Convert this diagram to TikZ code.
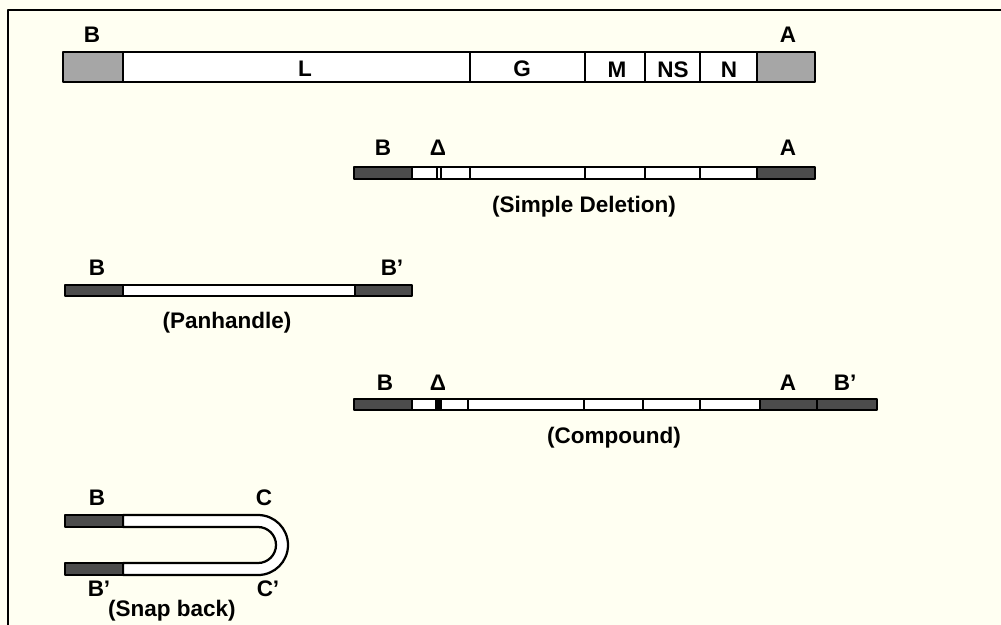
\documentclass[tikz,border=0pt]{standalone}
\usepackage{fontspec}
\setmainfont{Liberation Sans}
\definecolor{paper}{HTML}{FFFFF2}

\begin{document}
\begin{tikzpicture}[x=0.025cm, y=-0.025cm, line join=round]
    \tikzstyle{label_style} = [font=\fontsize{16}{18}\selectfont\bfseries, inner sep=0pt]
    \tikzstyle{bar_style} = [draw=black, line width=1.6pt, fill=white]
    \tikzstyle{end_style} = [draw=black, line width=1.6pt, fill=black!35]
    \tikzstyle{tip_style} = [draw=black, line width=1.4pt, fill=black!70]
    \tikzstyle{cut_style} = [draw=black, line width=1.3pt]

    \fill[paper] (0,0) rectangle (1001,625);
    \useasboundingbox (0,0) rectangle (1001,625);
    \draw[line width=1.8pt] (8,625) -- (8,10) -- (1001,10);

    % full genome
    \draw[bar_style] (123,52) rectangle (757,82);
    \draw[end_style] (63,52) rectangle (123,82);
    \draw[end_style] (757,52) rectangle (815,82);
    \foreach \x in {470,585,645,700}
        \draw[cut_style] (\x,52) -- (\x,82);
    \node[label_style] (b1) at (92,35) {B};
    \node[label_style] (a1) at (788,35) {A};
    \node[label_style] (l1) at (305,69) {L};
    \node[label_style] (g1) at (522,69) {G};
    \node[label_style] (m1) at (617,70) {M};
    \node[label_style] (ns1) at (673,70) {NS};
    \node[label_style] (n1) at (729,70) {N};

    % simple deletion
    \draw[bar_style] (412,167) rectangle (757,179);
    \draw[tip_style] (354,167) rectangle (412,179);
    \draw[tip_style] (757,167) rectangle (815,179);
    \foreach \x in {437,441,470,585,645,700}
        \draw[cut_style] (\x,167) -- (\x,179);
    \node[label_style] (b2) at (383,148) {B};
    \node[label_style] (d2) at (438,148) {Δ};
    \node[label_style] (a2) at (788,148) {A};
    \node[label_style] (cap2) at (584,207) {(Simple Deletion)};

    % panhandle
    \draw[bar_style] (123,285) rectangle (355,296);
    \draw[tip_style] (65,285) rectangle (123,296);
    \draw[tip_style] (355,285) rectangle (412,296);
    \node[label_style] (b3) at (97,268) {B};
    \node[label_style] (b3p) at (392,268) {B’};
    \node[label_style] (cap3) at (227,323) {(Panhandle)};

    % compound
    \draw[bar_style] (412,399) rectangle (760,410);
    \draw[tip_style] (354,399) rectangle (412,410);
    \draw[tip_style] (760,399) rectangle (817,410);
    \draw[tip_style] (817,399) rectangle (877,410);
    \fill (435,399) rectangle (442,410);
    \foreach \x in {468,584,643,700}
        \draw[cut_style] (\x,399) -- (\x,410);
    \node[label_style] (b4) at (385,383) {B};
    \node[label_style] (d4) at (438,383) {Δ};
    \node[label_style] (a4) at (788,383) {A};
    \node[label_style] (b4p) at (845,383) {B’};
    \node[label_style] (cap4) at (614,438) {(Compound)};

    % snap back
    \draw[bar_style] (123,515) -- (258,515) arc[start angle=90, end angle=-90, radius=0.75cm]
        -- (123,575) -- (123,563) -- (258,563) arc[start angle=-90, end angle=90, radius=0.45cm]
        -- (123,527) -- cycle;
    \draw[tip_style] (65,515) rectangle (123,527);
    \draw[tip_style] (65,563) rectangle (123,575);
    \node[label_style] (b5) at (97,498) {B};
    \node[label_style] (c5) at (264,498) {C};
    \node[label_style] (b5p) at (99,589) {B’};
    \node[label_style] (c5p) at (268,589) {C’};
    \node[label_style] (cap5) at (172,611) {(Snap back)};
\end{tikzpicture}
\end{document}
